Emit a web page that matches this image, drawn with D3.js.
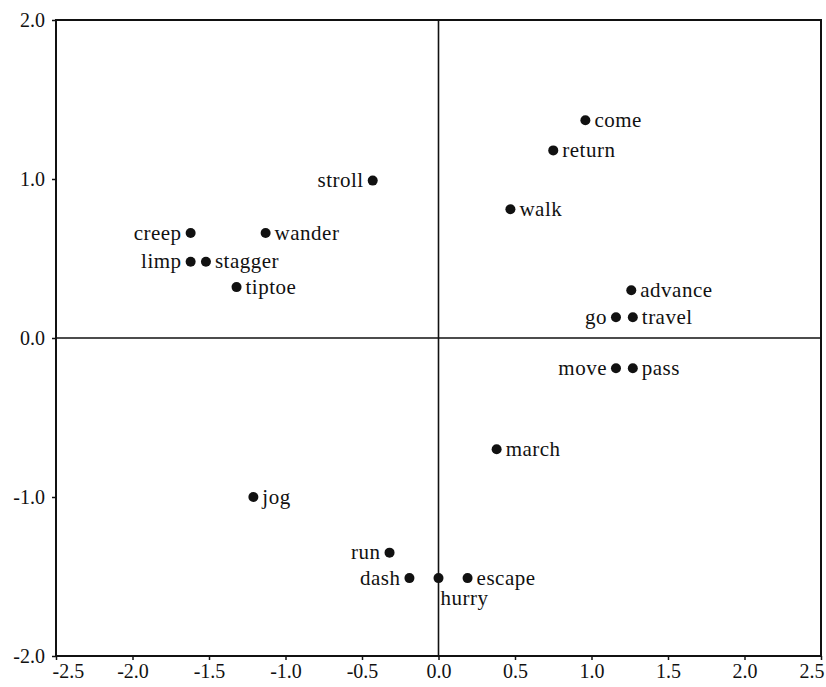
<!DOCTYPE html>
<html>
<head>
<meta charset="utf-8">
<script src="https://cdn.jsdelivr.net/npm/d3@7"></script>
<style>
  html, body { margin: 0; padding: 0; background: #fff; }
  svg { display: block; }
</style>
</head>
<body>
<svg id="chart" width="826" height="687"></svg>
<script>
// ---- data ----
const words   = ["come","return","walk","stroll","creep","wander","limp","stagger","tiptoe","advance","go","travel","move","pass","march","jog","run","dash","hurry","escape"];
const xValues = [0.96, 0.75, 0.47, -0.43, -1.62, -1.13, -1.62, -1.52, -1.32, 1.26, 1.16, 1.27, 1.16, 1.27, 0.38, -1.21, -0.32, -0.19, 0.00, 0.19];
const yValues = [1.37, 1.18, 0.81, 0.99, 0.66, 0.66, 0.48, 0.48, 0.32, 0.30, 0.13, 0.13, -0.19, -0.19, -0.70, -1.00, -1.35, -1.51, -1.51, -1.51];
const labelSide = ["right","right","right","left","left","right","left","right","right","right","left","right","left","right","right","right","left","left","below","right"];
const xTicks = [-2.5, -2.0, -1.5, -1.0, -0.5, 0.0, 0.5, 1.0, 1.5, 2.0, 2.5];
const yTicks = [2.0, 1.0, 0.0, -1.0, -2.0];

// ---- layout ----
(function () {
const svg = d3.select("#chart");
const pLeft = 56, pRight = 821, pTop = 20, pBottom = 656;
const x = d3.scaleLinear().domain([-2.5, 2.5]).range([pLeft, pRight]);
const y = d3.scaleLinear().domain([-2.0, 2.0]).range([pBottom, pTop]);
const font = "'Liberation Serif', 'DejaVu Serif', serif";

// border box
svg.append("rect")
  .attr("x", pLeft).attr("y", pTop)
  .attr("width", pRight - pLeft).attr("height", pBottom - pTop)
  .attr("fill", "none").attr("stroke", "#111").attr("stroke-width", 2);

// zero lines
svg.append("line")
  .attr("x1", pLeft).attr("x2", pRight)
  .attr("y1", y(0)).attr("y2", y(0))
  .attr("stroke", "#111").attr("stroke-width", 1.6);
svg.append("line")
  .attr("x1", x(0)).attr("x2", x(0))
  .attr("y1", pTop).attr("y2", pBottom)
  .attr("stroke", "#111").attr("stroke-width", 1.6);

// axes
const fmt = d => d3.format(".1f")(d).replace("\u2212", "-");
const xAxis = svg.append("g")
  .attr("transform", `translate(0,${pBottom})`)
  .call(d3.axisBottom(x).tickValues(xTicks).tickFormat(fmt).tickSize(4).tickPadding(4));
const yAxis = svg.append("g")
  .attr("transform", `translate(${pLeft},0)`)
  .call(d3.axisLeft(y).tickValues(yTicks).tickFormat(fmt).tickSize(4).tickPadding(7));

[xAxis, yAxis].forEach(g => {
  g.select(".domain").remove();
  g.selectAll(".tick line").attr("stroke", "#111").attr("stroke-width", 1.5);
  g.selectAll(".tick text")
    .attr("fill", "#111")
    .style("font-family", font)
    .style("font-size", "20px");
});
// end labels of the x axis sit inside the frame as in the reference
xAxis.selectAll(".tick").filter(d => d === -2.5).select("text").attr("text-anchor", "start").attr("dx", -4);
xAxis.selectAll(".tick").filter(d => d === 2.5).select("text").attr("text-anchor", "end").attr("dx", 3);

// points
const data = words.map((w, i) => ({ w, x: xValues[i], y: yValues[i], side: labelSide[i] }));

svg.append("g").selectAll("circle")
  .data(data).join("circle")
  .attr("cx", d => x(d.x))
  .attr("cy", d => y(d.y))
  .attr("r", 5)
  .attr("fill", "#111");

svg.append("g").selectAll("text")
  .data(data).join("text")
  .attr("x", d => d.side === "left" ? x(d.x) - 9 : (d.side === "below" ? x(d.x) + 2 : x(d.x) + 9))
  .attr("y", d => d.side === "below" ? y(d.y) + 20 : y(d.y))
  .attr("dy", "0.32em")
  .attr("text-anchor", d => d.side === "left" ? "end" : "start")
  .attr("fill", "#111")
  .style("font-family", font)
  .style("font-size", "21px")
  .style("letter-spacing", "0.5px")
  .text(d => d.w);
})();
</script>
</body>
</html>
